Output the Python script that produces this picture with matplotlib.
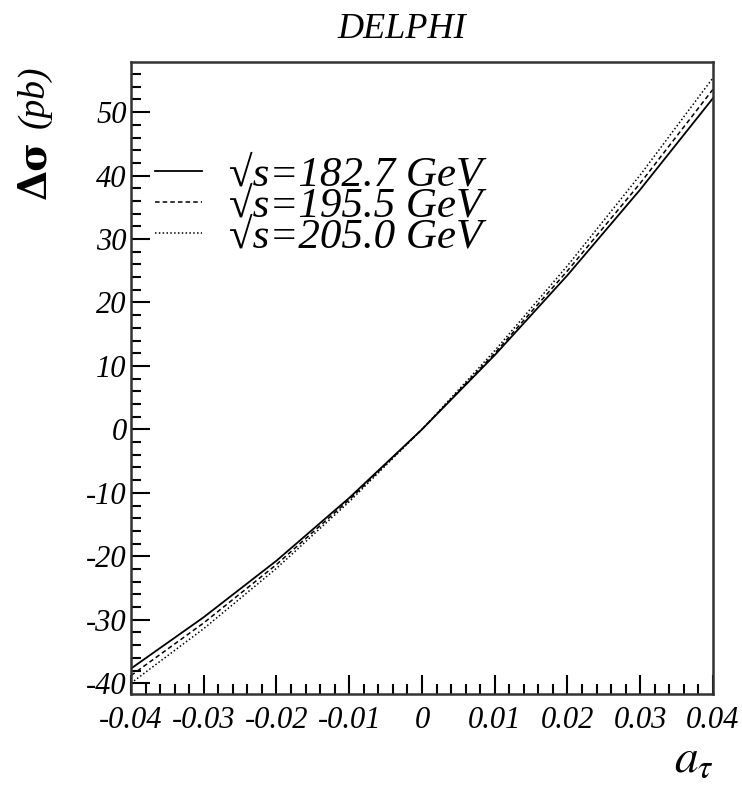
import matplotlib
matplotlib.use("Agg")
import matplotlib.pyplot as plt
from matplotlib.ticker import MultipleLocator
import numpy as np

# a_tau values and cross-section shifts (pb)
a_tau = [-0.04, -0.03, -0.02, -0.01, 0.0, 0.01, 0.02, 0.03, 0.04]
dsig_1827 = [-37.7, -29.6, -20.7, -10.8, 0.0, 11.7, 24.3, 37.8, 52.2]
dsig_1955 = [-38.8, -30.5, -21.3, -11.1, 0.0, 12.0, 25.0, 38.8, 53.6]
dsig_2050 = [-40.0, -31.4, -21.9, -11.4, 0.0, 12.4, 25.8, 40.1, 55.4]
labels = ["\u221as=182.7 GeV", "\u221as=195.5 GeV", "\u221as=205.0 GeV"]
xtick_labels = ["-0.04", "-0.03", "-0.02", "-0.01", "0", "0.01", "0.02", "0.03", "0.04"]

serif = "Liberation Serif"
plt.rcParams["mathtext.fontset"] = "stix"
plt.rcParams["axes.unicode_minus"] = False

fig = plt.figure(figsize=(7.42, 7.87), dpi=100)
ax = fig.add_axes([0.1765, 0.1182, 0.7844, 0.803])

ax.plot(a_tau, dsig_1827, color="black", lw=1.3, ls="-", label=labels[0])
ax.plot(a_tau, dsig_1955, color="black", lw=1.1, dashes=(3, 2), label=labels[1])
ax.plot(a_tau, dsig_2050, color="black", lw=1.1, dashes=(1, 1.5), label=labels[2])

ax.set_xlim(-0.04, 0.04)
ax.set_ylim(-41.7, 57.9)

ax.xaxis.set_major_locator(MultipleLocator(0.01))
ax.xaxis.set_minor_locator(MultipleLocator(0.002))
ax.yaxis.set_major_locator(MultipleLocator(10))
ax.yaxis.set_minor_locator(MultipleLocator(2))
ax.tick_params(which="both", direction="in", top=False, right=False, width=1.5)
ax.tick_params(which="major", length=14)
ax.tick_params(which="minor", length=7)
ax.tick_params(axis="x", which="major", pad=9)
ax.tick_params(axis="y", which="major", pad=3)

ax.set_xticks(np.arange(-0.04, 0.0401, 0.01))
ax.set_xticklabels(xtick_labels)
for lab in ax.get_xticklabels() + ax.get_yticklabels():
    lab.set_fontfamily(serif)
    lab.set_fontstyle("italic")
    lab.set_fontsize(22)

for sp in ax.spines.values():
    sp.set_linewidth(1.8)
    sp.set_color("#333333")

ax.legend(loc="center left", bbox_to_anchor=(0.041, 0.772), frameon=False,
          borderpad=0, borderaxespad=0, handlelength=1.1, handletextpad=0.62,
          labelspacing=-0.19,
          prop={"family": serif, "style": "italic", "size": 31})

fig.text(0.542, 0.952, "DELPHI", family=serif, style="italic", fontsize=26,
         ha="center", va="baseline")
fig.text(0.046, 0.785, "\u0394\u03c3", family="DejaVu Serif", weight="bold",
         fontsize=28, rotation=90, ha="center", va="center")
fig.text(0.046, 0.877, "(pb)", family=serif, style="italic", fontsize=27,
         rotation=90, ha="center", va="center")
fig.text(0.962, 0.02, r"$a_\tau$", fontsize=34, ha="right", va="baseline")

fig.savefig("out.png", dpi=100)
